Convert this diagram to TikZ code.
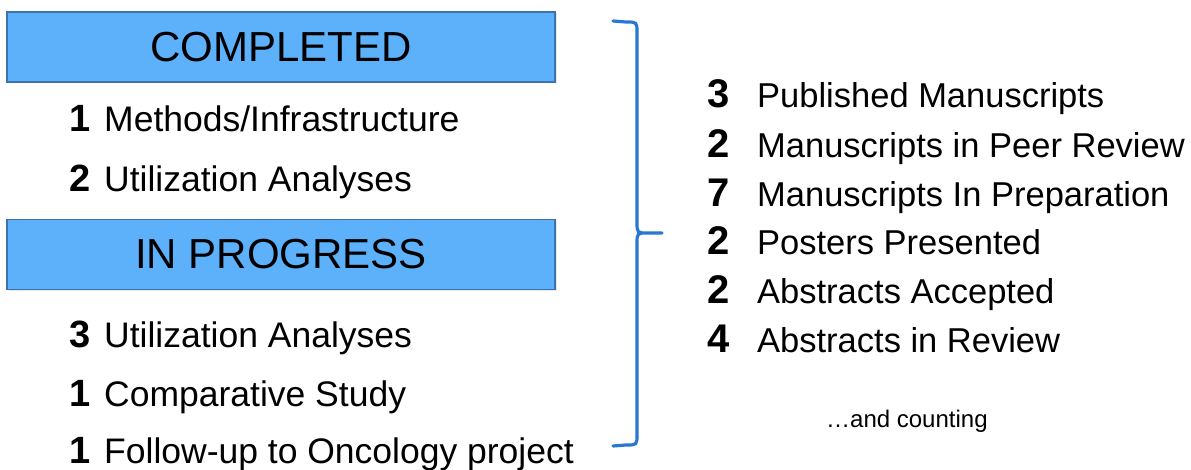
\documentclass[tikz,border=0pt]{standalone}
\usepackage{fontspec}
\setmainfont{Liberation Sans}
\usepackage{tikz}
\usetikzlibrary{shadows}

\definecolor{boxblue}{RGB}{93,176,250}
\definecolor{boxedge}{RGB}{60,115,175}
\definecolor{bracecol}{RGB}{40,120,210}

\begin{document}
\begin{tikzpicture}[x=1pt, y=-1pt,
    header/.style={draw=boxedge, line width=1.5pt, fill=boxblue, minimum width=548pt, minimum height=70pt, inner sep=0pt,
        font=\fontsize{42}{48}\selectfont, drop shadow={opacity=0.2, shadow xshift=1.5pt, shadow yshift=-1.5pt}},
    lnum/.style={anchor=base west, inner sep=0pt, font=\fontsize{38}{44}\selectfont\bfseries},
    ltext/.style={anchor=base west, inner sep=0pt, font=\fontsize{35.5}{42}\selectfont},
    rnum/.style={anchor=base west, inner sep=0pt, font=\fontsize{40}{46}\selectfont\bfseries},
    rtext/.style={anchor=base west, inner sep=0pt, font=\fontsize{34.5}{40}\selectfont}]
    \useasboundingbox (0,0) rectangle (1191,470);

    % left column
    \node[header] (completed) at (281,47) {COMPLETED};
    \node[lnum] (cnum1) at (69,132) {1};
    \node[ltext] (ctext1) at (104,132) {Methods/Infrastructure};
    \node[lnum] (cnum2) at (69,192) {2};
    \node[ltext] (ctext2) at (104,192) {Utilization Analyses};

    \node[header] (progress) at (281,254.5) {IN PROGRESS};
    \node[lnum] (pnum1) at (69,347) {3};
    \node[ltext] (ptext1) at (104,347) {Utilization Analyses};
    \node[lnum] (pnum2) at (69,406) {1};
    \node[ltext] (ptext2) at (104,406) {Comparative Study};
    \node[lnum] (pnum3) at (69,463) {1};
    \node[ltext] (ptext3) at (104,463) {Follow-up to Oncology project};

    % brace
    \draw[bracecol, line width=3.2pt, line cap=round]
        (613,21) -- (626,22) .. controls (637,22) .. (637,33) -- (637,222) .. controls (637,233) .. (648,233) -- (662,233)
        (662,233) -- (648,233) .. controls (637,233) .. (637,244) -- (637,434) .. controls (637,445) .. (626,445) -- (613,446);

    % right column
    \node[rnum] (onum1) at (707,108) {3};
    \node[rtext] (otext1) at (757,108) {Published Manuscripts};
    \node[rnum] (onum2) at (707,158) {2};
    \node[rtext] (otext2) at (757,158) {Manuscripts in Peer Review};
    \node[rnum] (onum3) at (707,207) {7};
    \node[rtext] (otext3) at (757,207) {Manuscripts In Preparation};
    \node[rnum] (onum4) at (707,255) {2};
    \node[rtext] (otext4) at (757,255) {Posters Presented};
    \node[rnum] (onum5) at (707,303) {2};
    \node[rtext] (otext5) at (757,303) {Abstracts Accepted};
    \node[rnum] (onum6) at (707,352) {4};
    \node[rtext] (otext6) at (757,352) {Abstracts in Review};

    \node[anchor=base west, inner sep=0pt, font=\fontsize{24}{28}\selectfont] (counting) at (826,427) {…and counting};
\end{tikzpicture}
\end{document}
